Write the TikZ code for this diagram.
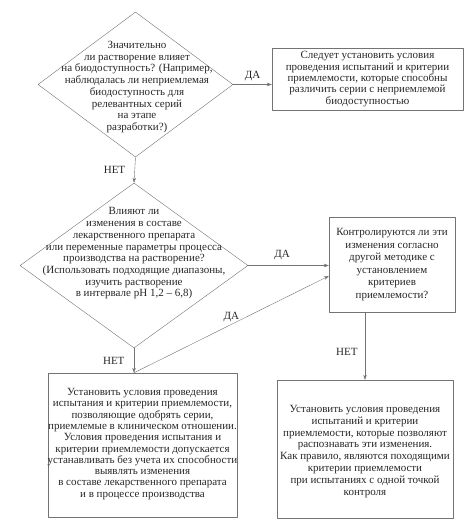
\documentclass[tikz,border=0pt]{standalone}
\usepackage{fontspec}
\setmainfont{Liberation Serif}
\usetikzlibrary{shapes.geometric,arrows.meta}
\begin{document}
\begin{tikzpicture}[x=1pt,y=-1pt,line join=round,>={Stealth[length=5pt,width=3.5pt]},
	dia/.style={diamond,draw=black!55,inner sep=0pt},
	blk/.style={rectangle,draw=black!55,inner sep=0pt},
	txt/.style={align=center,text=black!85,font=\fontsize{11}{11.7}\selectfont},
	lbl/.style={text=black!85,font=\fontsize{11}{12}\selectfont},
	con/.style={->,draw=black!55,thin}]
	\useasboundingbox (0,0) rectangle (464,532);
	% questions
	\node[dia,minimum width=195pt,minimum height=145pt] (q1) at (135.5,84.5) {};
	\node[txt] (q1t) at (137,87) {Значительно\\ли растворение влияет\\на биодоступность? (Например,\\наблюдалась ли неприемлемая\\биодоступность для\\релевантных серий\\на этапе\\разработки?)};
	\node[dia,minimum width=228pt,minimum height=165pt] (q2) at (134,265.5) {};
	\node[txt] (q2t) at (134,253.5) {Влияют ли\\изменения в составе\\лекарственного препарата\\или переменные параметры процесса\\производства на растворение?\\(Использовать подходящие диапазоны,\\изучить растворение\\в интервале pH 1,2 -- 6,8)};
	% boxes
	\node[blk,minimum width=191pt,minimum height=62pt] (b1) at (367.5,79) {};
	\node[txt,font=\fontsize{11}{11.3}\selectfont] (b1t) at (b1) {Следует установить условия\\проведения испытаний и критерии\\приемлемости, которые способны\\различить серии с неприемлемой\\биодоступностью};
	\node[blk,minimum width=126pt,minimum height=95pt] (b2) at (392,264.5) {};
	\node[txt,font=\fontsize{11}{12.6}\selectfont] (b2t) at (b2) {Контролируются ли эти\\изменения согласно\\другой методике с\\установлением\\критериев\\приемлемости?};
	\node[blk,minimum width=189pt,minimum height=144pt] (b3) at (142.5,445) {};
	\node[txt,font=\fontsize{11}{11.3}\selectfont] (b3t) at (142.5,444) {Установить условия проведения\\испытания и критерии приемлемости,\\позволяющие одобрять серии,\\приемлемые в клиническом отношении.\\Условия проведения испытания и\\критерии приемлемости допускается\\устанавливать без учета их способности\\выявлять изменения\\в составе лекарственного препарата\\и в процессе производства};
	\node[blk,minimum width=176pt,minimum height=138pt] (b4) at (365,449) {};
	\node[txt,font=\fontsize{11}{11.9}\selectfont] (b4t) at (365,451.5) {Установить условия проведения\\испытаний и критерии\\приемлемости, которые позволяют\\распознавать эти изменения.\\Как правило, являются походящими\\критерии приемлемости\\при испытаниях с одной точкой\\контроля};
	% connectors
	\coordinate (b3in) at (q2.south |- b3.north);
	\coordinate (b2in) at ([yshift=-11.5pt]b2.west);
	\coordinate (b2out) at (b4.north |- b2.south);
	\draw[con] (q1.east) -- (q1.east -| b1.west) node[lbl,midway,above] {ДА};
	\draw[con] (q1.south) -- (q2.north) node[lbl,midway,left=6pt] {НЕТ};
	\draw[con] (q2.east) -- (q2.east -| b2.west) node[lbl,pos=0.42,above=2pt] {ДА};
	\draw[con] (q2.south) -- (b3in) node[lbl,midway,left=6pt] {НЕТ};
	\draw[con] (b3in) -- (b2in) node[lbl,pos=0.5,above=-1pt] {ДА};
	\draw[con] (b2out) -- (b4.north) node[lbl,pos=0.59,left=4pt] {НЕТ};
\end{tikzpicture}
\end{document}
